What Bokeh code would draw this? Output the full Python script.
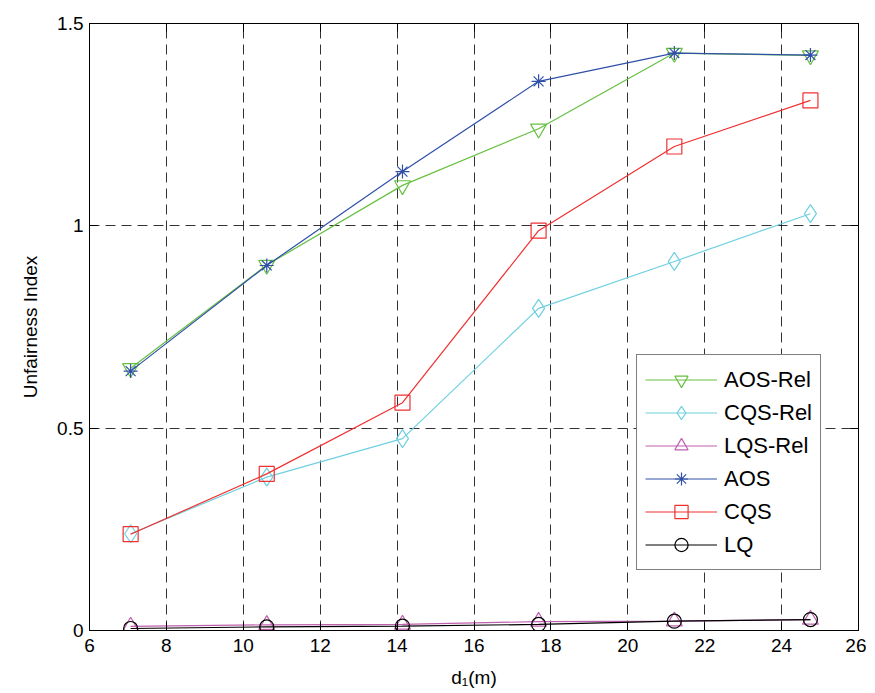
from bokeh.plotting import figure
from bokeh.models import LinearAxis, Legend, LegendItem, Range1d, NumeralTickFormatter
from bokeh.embed import file_html
from bokeh.resources import INLINE

# ---- data ----
d1 = [7.07, 10.61, 14.14, 17.68, 21.21, 24.75]
aos_rel = [0.648, 0.903, 1.100, 1.240, 1.427, 1.421]
cqs_rel = [0.239, 0.379, 0.474, 0.796, 0.912, 1.030]
lqs_rel = [0.010, 0.014, 0.015, 0.022, 0.023, 0.027]
aos = [0.641, 0.902, 1.134, 1.357, 1.427, 1.422]
cqs = [0.238, 0.387, 0.563, 0.988, 1.196, 1.310]
lq = [0.005, 0.009, 0.011, 0.015, 0.023, 0.027]

series_names = ["AOS-Rel", "CQS-Rel", "LQS-Rel", "AOS", "CQS", "LQ"]
x_ticks = [6, 8, 10, 12, 14, 16, 18, 20, 22, 24, 26]
y_ticks = [0, 0.5, 1, 1.5]

FONT = "Liberation Sans"
FS = "19px"
LFS = "22px"

p = figure(frame_width=769, frame_height=607,
           x_range=Range1d(6, 26), y_range=Range1d(0, 1.5),
           output_backend="svg", toolbar_location=None,
           min_border_left=89, min_border_right=8,
           min_border_top=23, min_border_bottom=55,
           background_fill_color="white", border_fill_color="white")

p.outline_line_color = "black"
p.outline_line_width = 1

for ax in (p.xaxis[0], p.yaxis[0]):
    ax.major_tick_in = 8
    ax.major_tick_out = 0
    ax.minor_tick_in = 0
    ax.minor_tick_out = 0
    ax.axis_line_color = "black"
    ax.major_tick_line_color = "black"
    ax.major_label_text_font = FONT
    ax.major_label_text_font_size = FS
    ax.major_label_text_color = "black"
    ax.axis_label_text_font = FONT
    ax.axis_label_text_font_size = FS
    ax.axis_label_text_font_style = "normal"
    ax.axis_label_text_color = "black"

p.xaxis.ticker = x_ticks
p.yaxis.ticker = y_ticks
p.yaxis.formatter = NumeralTickFormatter(format="0.[0]")
p.xaxis.axis_label = "d\u2081(m)"
p.yaxis.axis_label = "Unfairness Index"
p.xaxis.major_label_standoff = 8
p.yaxis.major_label_standoff = 6
p.xaxis.axis_label_standoff = 12
p.yaxis.axis_label_standoff = 13

# box axes (right, top) with inward ticks, no labels
for loc, ticks in (("right", y_ticks), ("above", x_ticks)):
    a = LinearAxis(ticker=ticks, major_tick_in=8, major_tick_out=0,
                   minor_tick_in=0, minor_tick_out=0,
                   major_label_text_alpha=0, major_label_text_font_size="1px",
                   major_label_standoff=0, axis_line_color="black",
                   major_tick_line_color="black")
    p.add_layout(a, loc)

for g in (p.xgrid[0], p.ygrid[0]):
    g.grid_line_color = "black"
    g.grid_line_alpha = 0.8
    g.grid_line_dash = "10 6"
    g.grid_line_width = 1

styles = [
    (aos_rel, "#66c040", "inverted_triangle", 16),
    (cqs_rel, "#6fd0e0", "diamond", 18),
    (lqs_rel, "#c060b0", "triangle", 16),
    (aos, "#3050a8", "asterisk", 14),
    (cqs, "#f03030", "square", 15),
    (lq, "#000000", "circle", 14),
]

items = []
for name, (vals, col, mk, sz) in zip(series_names, styles):
    lr = p.line(d1, vals, line_color=col, line_width=1.2)
    sr = p.scatter(d1, vals, marker=mk, size=sz, line_color=col,
                   fill_color=None, line_width=1.2)
    items.append(LegendItem(label=name, renderers=[lr, sr]))

legend = Legend(items=items, location=(547, 60), margin=0, padding=8,
                spacing=0, glyph_width=72, glyph_height=33, label_height=33,
                label_standoff=7, label_text_font=FONT, label_text_font_size=LFS,
                label_text_color="black", border_line_color="black",
                border_line_width=1, background_fill_color="white",
                background_fill_alpha=1)
p.add_layout(legend, "center")

open("out.html", "w").write(file_html(p, INLINE))
